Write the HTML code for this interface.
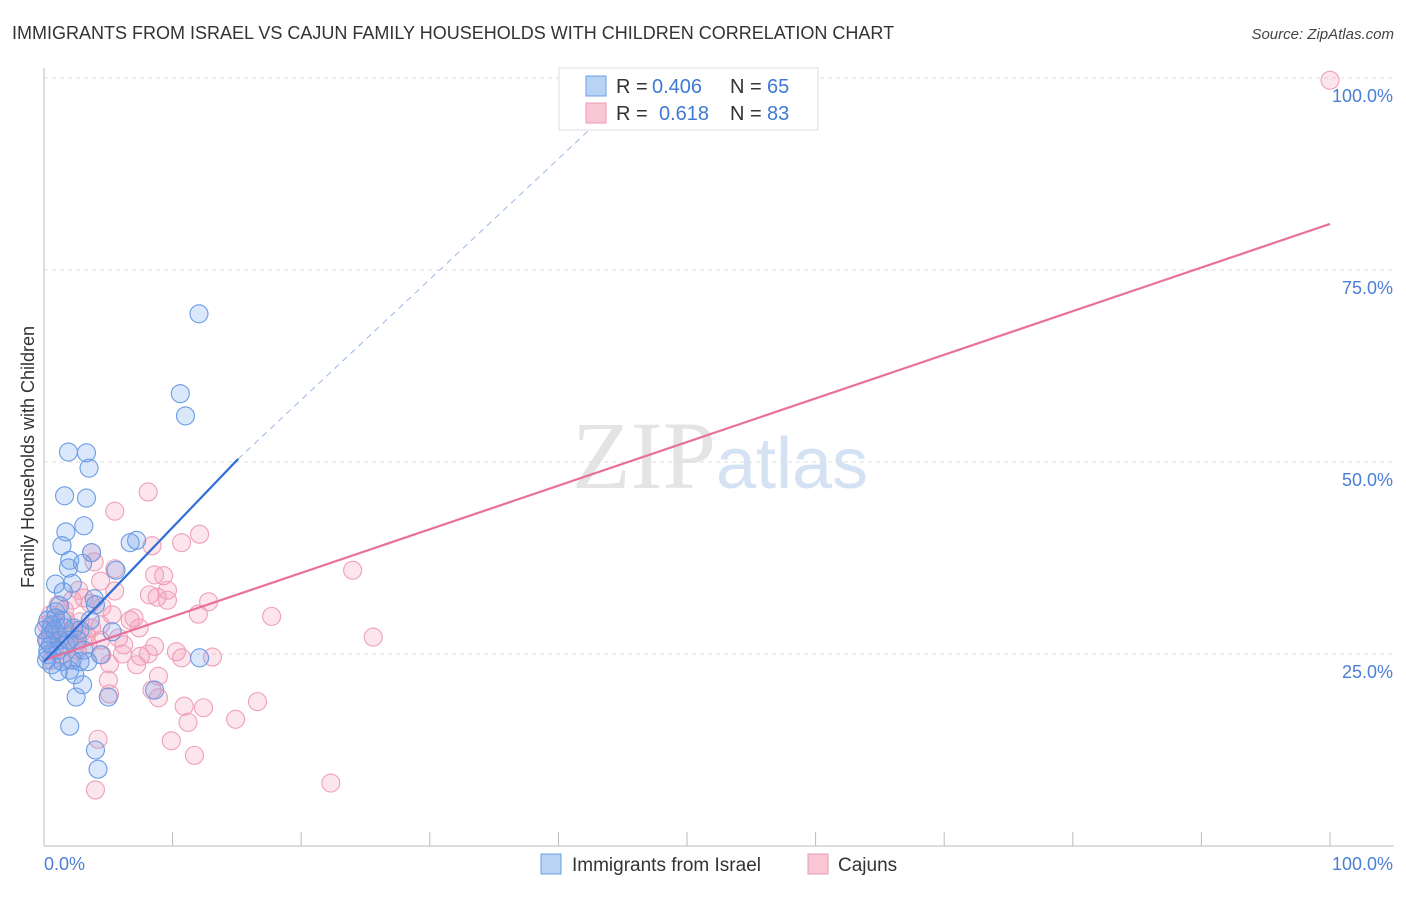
<!DOCTYPE html>
<html><head><meta charset="utf-8"><style>
body{margin:0;background:#fff;font-family:"Liberation Sans",sans-serif;}
</style></head><body>
<svg id="chart" width="1406" height="892" xmlns="http://www.w3.org/2000/svg" font-family="Liberation Sans, sans-serif">
<text x="12" y="39" font-size="18" fill="#333">IMMIGRANTS FROM ISRAEL VS CAJUN FAMILY HOUSEHOLDS WITH CHILDREN CORRELATION CHART</text>
<text x="1394" y="39" font-size="15" fill="#444" text-anchor="end" font-style="italic">Source: ZipAtlas.com</text>
<text x="720" y="488" font-size="96" text-anchor="middle" fill="#e4e4e4" font-family="Liberation Serif, serif">ZIP<tspan fill="#d5e2f4" font-family="Liberation Sans, sans-serif" font-size="72">atlas</tspan></text>
<g id="grid"></g>
<g id="axes"></g>
<g id="points"></g>
<g id="trends"></g>
<text transform="translate(34,457) rotate(-90)" font-size="18" fill="#333" text-anchor="middle">Family Households with Children</text>
<g>
<rect x="559" y="68" width="259" height="62" fill="#fff" stroke="#ddd"/>
<rect x="586" y="76" width="20" height="20" fill="#b9d3f5" stroke="#6d9ee6"/>
<rect x="586" y="103" width="20" height="20" fill="#f9c6d5" stroke="#ec9ab2"/>
<text x="616" y="93" font-size="20" fill="#333">R =</text>
<text x="652" y="93" font-size="20" fill="#3f79d4">0.406</text>
<text x="730" y="93" font-size="20" fill="#333">N =</text>
<text x="767" y="93" font-size="20" fill="#3f79d4">65</text>
<text x="616" y="120" font-size="20" fill="#333">R =</text>
<text x="659" y="120" font-size="20" fill="#3f79d4">0.618</text>
<text x="730" y="120" font-size="20" fill="#333">N =</text>
<text x="767" y="120" font-size="20" fill="#3f79d4">83</text>
</g>
<g>
<rect x="541" y="854" width="20" height="20" fill="#b9d3f5" stroke="#6d9ee6"/>
<text x="572" y="871" font-size="19" fill="#333">Immigrants from Israel</text>
<rect x="808" y="854" width="20" height="20" fill="#f9c6d5" stroke="#ec9ab2"/>
<text x="838" y="871" font-size="19" fill="#333">Cajuns</text>
</g>
</svg>
<script>
const xTicks=[0,10,20,30,40,50,60,70,80,90,100];
const yTicks=[25,50,75,100];
const yTickLabels=["25.0%","50.0%","75.0%","100.0%"];
const blueX=[12.05,10.6,11.0,1.9,3.3,3.5,1.6,3.3,3.1,1.7,1.4,7.2,6.7,3.7,2.0,1.9,3.0,5.6,0.9,2.2,1.5,3.9,1.2,0.9,4.0,5.3,12.1,0.3,0.6,0.5,0.2,1.2,1.1,0.3,0.6,1.4,2.2,2.8,3.4,2.0,2.4,3.0,2.5,5.0,8.6,2.0,4.0,4.2,0.8,1.6,0.5,0.9,1.7,2.6,3.1,3.6,0.2,4.4,1.9,1.1,2.3,0.0,0.3,1.4,2.8];
const blueY=[69.3,58.9,56.0,51.3,51.2,49.2,45.6,45.3,41.7,40.9,39.1,39.8,39.5,38.2,37.2,36.2,36.8,35.9,34.1,34.2,33.1,32.2,31.3,30.5,31.4,27.9,24.5,29.4,28.8,27.5,26.8,26.8,25.5,24.9,23.6,24.0,24.2,24.0,24.0,22.9,22.3,21.0,19.4,19.4,20.3,15.6,12.5,10.0,28.1,28.4,26.2,29.7,26.2,26.8,25.5,29.4,24.2,24.9,26.8,22.7,28.4,28.1,25.5,29.4,28.1];
const pinkX=[100,8.1,5.5,12.1,10.7,8.4,3.7,3.9,5.5,8.6,9.3,24.0,4.4,5.5,8.2,8.8,9.6,12.8,9.6,2.7,3.6,4.5,7.0,6.7,12.0,17.7,25.6,4.4,3.0,7.4,5.8,6.2,8.6,4.5,6.1,5.1,7.5,10.3,10.7,13.1,8.1,7.2,8.9,8.4,5.1,8.9,5.0,10.9,12.4,11.2,14.9,16.6,4.2,9.9,11.7,4.0,22.3,1.2,1.7,2.3,2.8,0.9,0.5,0.3,0.8,1.4,2.0,2.5,3.3,3.7,0.2,0.6,1.6,2.2,3.1,1.1,1.7,2.6,3.4,4.4,5.3,1.9,0.5];
const pinkY=[99.7,46.1,43.6,40.6,39.5,39.1,38.2,37.0,36.1,35.3,35.2,35.9,34.5,33.2,32.7,32.4,33.3,31.8,32.0,33.3,31.6,31.1,29.7,29.4,30.2,29.9,27.2,28.8,27.9,28.4,27.1,26.2,26.0,24.9,25.0,23.7,24.7,25.3,24.5,24.6,25.0,23.6,22.1,20.3,19.8,19.3,21.6,18.2,18.0,16.1,16.5,18.8,13.9,13.7,11.8,7.3,8.2,26.8,27.5,28.1,29.2,28.8,28.1,26.8,25.5,24.9,26.8,26.2,27.5,28.4,28.8,24.2,30.7,32.0,32.3,31.4,29.4,25.5,26.2,26.8,30.1,24.2,30.1];
const blueTrend=[[0,24.0],[15.1,50.4]];
const blueTrendExt=[[15.1,50.4],[43.2,94.5]];
const pinkTrend=[[0,24.2],[100,81.0]];

const NS="http://www.w3.org/2000/svg";
const sx=v=>44+v*12.86;
const sy=v=>846-v*7.68;
function mk(tag,attrs,parent){const e=document.createElementNS(NS,tag);for(const k in attrs)e.setAttribute(k,attrs[k]);document.getElementById(parent).appendChild(e);return e;}
yTicks.forEach((t,i)=>{
  const l=mk('line',{x1:44,x2:1394,y1:sy(t),y2:sy(t),stroke:'#ddd','stroke-dasharray':'4,4'},'grid');
  
  
  const tx=mk('text',{x:1393,y:sy(t)+24,'font-size':18,fill:'#4a7fd4','text-anchor':'end'},'axes');
  tx.textContent=yTickLabels[i];
  
  
});
const ax=mk('line',{x1:44,x2:44,y1:68,y2:846,stroke:'#bbb'},'axes');


const bx=mk('line',{x1:44,x2:1394,y1:846,y2:846,stroke:'#bbb'},'axes');


xTicks.forEach(t=>{
  const l=mk('line',{x1:sx(t),x2:sx(t),y1:846,y2:832,stroke:'#bbb'},'axes');
  
  
});
const xl0=mk('text',{x:44,y:870,'font-size':18,fill:'#4a7fd4'},'axes');xl0.textContent='0.0%';


const xl1=mk('text',{x:1393,y:870,'font-size':18,fill:'#4a7fd4','text-anchor':'end'},'axes');xl1.textContent='100.0%';


pinkX.forEach((x,i)=>{
  const c=mk('circle',{cx:sx(x),cy:sy(pinkY[i]),r:9,fill:'rgba(244,150,180,0.25)',stroke:'#ef9fb8','stroke-width':1.1},'points');
  
  
});
blueX.forEach((x,i)=>{
  const c=mk('circle',{cx:sx(x),cy:sy(blueY[i]),r:9,fill:'rgba(110,160,235,0.25)',stroke:'#6a9be3','stroke-width':1.1},'points');
  
  
});
const pt=mk('line',{x1:sx(pinkTrend[0][0]),y1:sy(pinkTrend[0][1]),x2:sx(pinkTrend[1][0]),y2:sy(pinkTrend[1][1]),stroke:'#e8709a','stroke-width':2.2},'trends');


const be=mk('line',{x1:sx(blueTrendExt[0][0]),y1:sy(blueTrendExt[0][1]),x2:sx(blueTrendExt[1][0]),y2:sy(blueTrendExt[1][1]),stroke:'#9ab6e4','stroke-width':1,'stroke-dasharray':'6,5'},'trends');


const bt=mk('line',{x1:sx(blueTrend[0][0]),y1:sy(blueTrend[0][1]),x2:sx(blueTrend[1][0]),y2:sy(blueTrend[1][1]),stroke:'#2f6fd6','stroke-width':2.2},'trends');


</script>
</body></html>
